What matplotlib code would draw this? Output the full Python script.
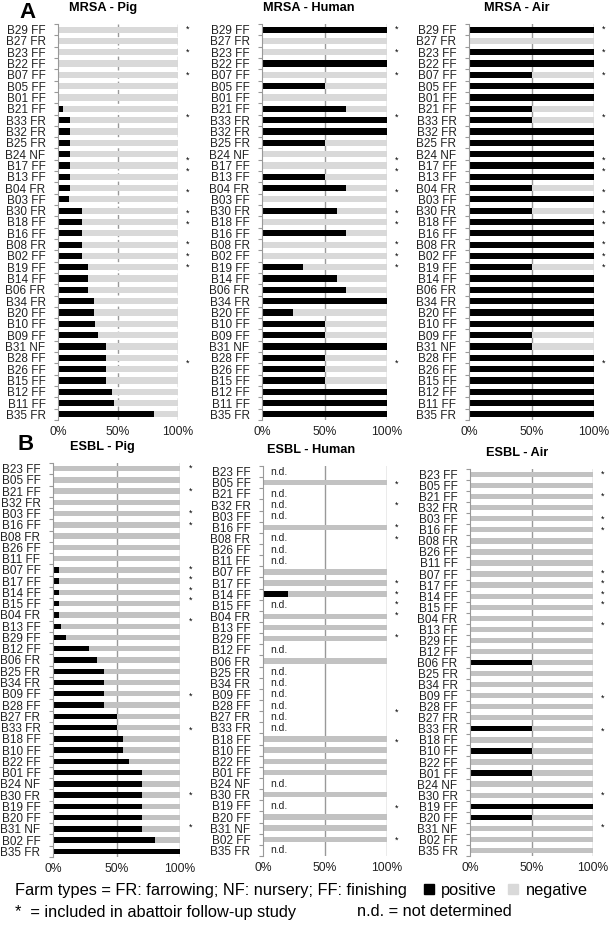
import matplotlib.pyplot as plt
from matplotlib.patches import Patch
import numpy as np

plt.rcParams['font.family'] = ['Liberation Sans', 'DejaVu Sans']

W, H = 613, 925

# MRSA: farms top to bottom, % positive samples
mrsa_farms = ['B29 FF', 'B27 FR', 'B23 FF', 'B22 FF', 'B07 FF', 'B05 FF', 'B01 FF',
              'B21 FF', 'B33 FR', 'B32 FR', 'B25 FR', 'B24 NF', 'B17 FF', 'B13 FF',
              'B04 FR', 'B03 FF', 'B30 FR', 'B18 FF', 'B16 FF', 'B08 FR', 'B02 FF',
              'B19 FF', 'B14 FF', 'B06 FR', 'B34 FR', 'B20 FF', 'B10 FF', 'B09 FF',
              'B31 NF', 'B28 FF', 'B26 FF', 'B15 FF', 'B12 FF', 'B11 FF', 'B35 FR']
mrsa_pig = [0, 0, 0, 0, 0, 0, 0, 4, 10, 10, 10, 10, 10, 10, 10, 9, 20, 20, 20, 20, 20,
            25, 25, 25, 30, 30, 31, 33, 40, 40, 40, 40, 45, 47, 80]
mrsa_human = [100, 0, 0, 100, 0, 50, 0, 67, 100, 100, 50, 0, 0, 50, 67, 0, 60, 0, 67, 0, 0,
              33, 60, 67, 100, 25, 50, 50, 100, 50, 50, 50, 100, 100, 100]
mrsa_air = [100, 0, 100, 100, 50, 100, 100, 50, 50, 100, 100, 100, 100, 100, 50, 100, 50,
            100, 100, 100, 100, 50, 100, 100, 100, 100, 100, 50, 50, 100, 100, 100, 100,
            100, 100]
mrsa_stars = [0, 2, 4, 7.7, 11.5, 12.5, 14.35, 16.2, 17.2, 19, 20, 21, 29.5]

# ESBL: farms top to bottom, % positive samples (None = not determined)
esbl_farms = ['B23 FF', 'B05 FF', 'B21 FF', 'B32 FR', 'B03 FF', 'B16 FF', 'B08 FR',
              'B26 FF', 'B11 FF', 'B07 FF', 'B17 FF', 'B14 FF', 'B15 FF', 'B04 FR',
              'B13 FF', 'B29 FF', 'B12 FF', 'B06 FR', 'B25 FR', 'B34 FR', 'B09 FF',
              'B28 FF', 'B27 FR', 'B33 FR', 'B18 FF', 'B10 FF', 'B22 FF', 'B01 FF',
              'B24 NF', 'B30 FR', 'B19 FF', 'B20 FF', 'B31 NF', 'B02 FF', 'B35 FR']
esbl_pig = [0, 0, 0, 0, 0, 0, 0, 0, 0, 5, 5, 5, 5, 5, 6, 10, 28, 35, 40, 40, 40, 40, 50,
            50, 55, 55, 60, 70, 70, 70, 70, 70, 70, 80, 100]
nd = None
esbl_human = [nd, 0, nd, nd, nd, 0, nd, nd, nd, 0, 0, 20, nd, 0, 0, 0, nd, 0, nd, nd, nd,
              nd, nd, nd, 0, 0, 0, 0, nd, 0, nd, 0, 0, 0, nd]
esbl_air = [0, 0, 0, 0, 0, 0, 0, 0, 0, 0, 0, 0, 0, 0, 0, 0, 0, 50, 0, 0, 0, 0, 0, 50, 0,
            50, 0, 50, 0, 0, 100, 50, 0, 0, 0]
esbl_stars = [0, 2, 4, 5, 8.9, 9.8, 10.8, 11.7, 13.6, 20.2, 23.2, 29, 31.9]
esbl_human_stars = [1.1, 3, 5, 6.1, 10, 11, 11.9, 12.9, 14.9, 21.6, 24.3, 30.2, 33.1]

MRSA_GREY = '#d9d9d9'
ESBL_GREY = '#c2c2c2'


def panel(fig, box, farms, values, stars, grey, title, title_xy, dashed=False, bar_h=0.55):
    left, top, right, bottom = box
    ax = fig.add_axes([left / W, 1 - bottom / H, (right - left) / W, (bottom - top) / H])
    y = np.arange(len(farms))
    for yi, v in zip(y, values):
        if v is None:
            ax.text(6, yi, 'n.d.', fontsize=7.5, va='center', ha='left', color='#222222')
            continue
        ax.barh(yi, v, height=bar_h, color='black')
        ax.barh(yi, 100 - v, left=v, height=bar_h, color=grey)
    for s in stars:
        ax.text(108, s, '*', fontsize=6.5, ha='center', va='center', clip_on=False)
    ls = (0, (4, 2)) if dashed else '-'
    for gx in (50, 100):
        ax.axvline(gx, color='#999999', lw=1, ls=ls, zorder=0)
    ax.set_xlim(0, 100)
    ax.set_ylim(len(farms) - 0.5, -0.5)
    ax.set_xticks([0, 50, 100])
    ax.set_xticklabels(['0%', '50%', '100%'], fontsize=8.7, color='#222222')
    ax.tick_params(axis='x', length=0, pad=4)
    ax.set_yticks(y)
    ax.set_yticklabels(farms, fontsize=8.5, color='#222222')
    ax.set_yticks(np.arange(len(farms) + 1) - 0.5, minor=True)
    ax.tick_params(axis='y', which='major', length=0, pad=9)
    ax.tick_params(axis='y', which='minor', length=3, color='#999999', width=0.8)
    for sp in ('top', 'right', 'bottom'):
        ax.spines[sp].set_visible(False)
    ax.spines['left'].set_color('#999999')
    fig.text(title_xy[0] / W, 1 - title_xy[1] / H, title, fontsize=9.2, fontweight='bold',
             ha='center', va='center')
    return ax


fig = plt.figure(figsize=(W / 100, H / 100), dpi=100)

panel(fig, (58, 24, 178, 420), mrsa_farms, mrsa_pig, mrsa_stars, MRSA_GREY,
      'MRSA - Pig', (103, 8), dashed=True)
panel(fig, (262, 24, 387, 420), mrsa_farms, mrsa_human, mrsa_stars, MRSA_GREY,
      'MRSA - Human', (309, 8))
panel(fig, (469, 24, 594, 420), mrsa_farms, mrsa_air, mrsa_stars, MRSA_GREY,
      'MRSA - Air', (517, 8))

panel(fig, (53, 463, 180, 857), esbl_farms, esbl_pig, esbl_stars, ESBL_GREY,
      'ESBL - Pig', (102, 447), bar_h=0.48)
panel(fig, (263, 466, 387, 856), esbl_farms, esbl_human, esbl_human_stars, ESBL_GREY,
      'ESBL - Human', (311, 450), bar_h=0.48)
panel(fig, (470, 469, 593, 856), esbl_farms, esbl_air, esbl_stars, ESBL_GREY,
      'ESBL - Air', (517, 453), bar_h=0.48)

fig.text(27 / W, 1 - 12 / H, 'A', fontsize=16, fontweight='bold', ha='center', va='center')
fig.text(26 / W, 1 - 444 / H, 'B', fontsize=16, fontweight='bold', ha='center', va='center')

fig.text(15 / W, 1 - 890 / H, 'Farm types = FR: farrowing; NF: nursery; FF: finishing',
         fontsize=11.8, ha='left', va='center')
fig.text(15 / W, 1 - 912 / H, '*  = included in abattoir follow-up study',
         fontsize=11.8, ha='left', va='center')
fig.text(357 / W, 1 - 912 / H, 'n.d. = not determined', fontsize=11.8, ha='left', va='center')

handles = [Patch(color='black', label='positive'), Patch(color=MRSA_GREY, label='negative')]
fig.legend(handles=handles, loc='center left', bbox_to_anchor=(424 / W, 1 - 890 / H),
           ncol=2, frameon=False, fontsize=11.8, handlelength=0.6, handleheight=0.6,
           handletextpad=0.45, columnspacing=0.7, borderpad=0, borderaxespad=0)

fig.savefig('out.png', dpi=100)
